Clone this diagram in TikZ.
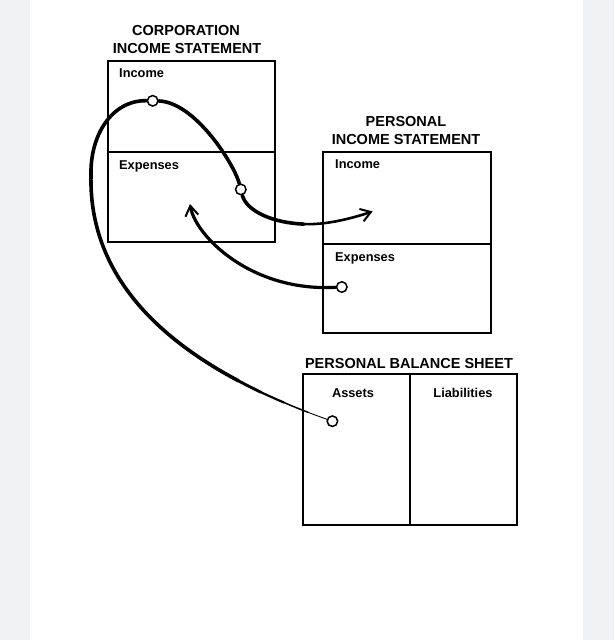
\documentclass[tikz,border=0pt]{standalone}
\usepackage{fontspec}
\setmainfont{Liberation Sans}
\usetikzlibrary{arrows.meta,backgrounds}
\definecolor{bgside}{HTML}{F1F2F4}
\begin{document}
\begin{tikzpicture}[x=1pt,y=-1pt,
  box/.style={line width=2.4pt},
  ttl/.style={font=\fontsize{14.5}{17}\selectfont\bfseries, anchor=base, inner sep=0},
  lbl/.style={font=\fontsize{12.8}{15}\selectfont\bfseries, anchor=base west, inner sep=0},
  dot/.style={circle, draw, fill=white, line width=1.5pt, minimum size=10.5pt, inner sep=0},
  brush/.style={line width=3.6pt, line cap=round},
  tip/.style={-{Straight Barb[length=10pt,width=13pt,line width=2pt]}}
]
\useasboundingbox (0,0) rectangle (614,640);
% boxes
\draw[box] (108,61) rectangle (275,242);
\draw[box] (108,152) -- (275,152);
\draw[box] (323,152) rectangle (491,333);
\draw[box] (323,244) -- (491,244);
\draw[box] (303,374) rectangle (517,525);
\draw[box] (410,374) -- (410,525);
% titles
\node[ttl] (t1a) at (186,35) {CORPORATION};
\node[ttl] (t1b) at (187,53) {INCOME STATEMENT};
\node[ttl] (t2a) at (406,126) {PERSONAL};
\node[ttl] (t2b) at (406,144.5) {INCOME STATEMENT};
\node[ttl] (t3) at (409,368.5) {PERSONAL BALANCE SHEET};
% labels
\node[lbl] (ci) at (119,77) {Income};
\node[lbl] (ce) at (119,169) {Expenses};
\node[lbl] (pi) at (335,168.5) {Income};
\node[lbl] (pe) at (335,261) {Expenses};
\node[lbl, anchor=base] (as) at (353,397) {Assets};
\node[lbl, anchor=base] (li) at (463,397) {Liabilities};
% circles
\node[dot] (c1) at (152.7,100.8) {};
\node[dot] (c2) at (240.8,189.4) {};
\node[dot] (c3) at (341.8,287) {};
\node[dot] (c4) at (332.4,421.2) {};
\coordinate (a1) at (372.7,211.4);
\coordinate (a2) at (190,204);
\coordinate (u) at (307.8,412.2);
\coordinate (s1) at (283.9,402.5);
\coordinate (v) at (260.7,392.1);
\coordinate (s2) at (238.4,380.8);
\coordinate (lm) at (91,175);
\coordinate (s3) at (303.99,224.1);
\begin{pgfonlayer}{background}
\fill[bgside] (0,0) rectangle (614,640);
\fill[white] (30,0) rectangle (583,640);
\draw[line width=0.9pt, line cap=round] (c4) .. controls (324.1,418.3) and (315.9,415.3) .. (u);
\draw[line width=1.5pt, line cap=round] (u) .. controls (299.7,409.1) and (291.75,405.85) .. (s1);
\draw[line width=2.2pt, line cap=round] (s1) .. controls (276.05,399.15) and (268.3,395.7) .. (v);
\draw[line width=2.9pt, line cap=round] (v) .. controls (253.15,388.45) and (245.7,384.7) .. (s2);
\draw[brush] (s2) .. controls (151.2,334.4) and (88.75,268.75) .. (lm);
\draw[brush] (lm) .. controls (90,135) and (112,100) .. (c1);
\draw[brush] (c1) .. controls (195,102) and (234.3,164.4) .. (c2);
\draw[brush] (c2) .. controls (246.32,210.76) and (271.92,222.9) .. (s3);
\draw[line width=2.6pt, line cap=round, tip] (s3) .. controls (325.37,224.9) and (350,219) .. (a1);
\draw[line width=3.2pt, line cap=round, tip] (c3) .. controls (250,292) and (195,235) .. (a2);
\end{pgfonlayer}
\end{tikzpicture}
\end{document}
